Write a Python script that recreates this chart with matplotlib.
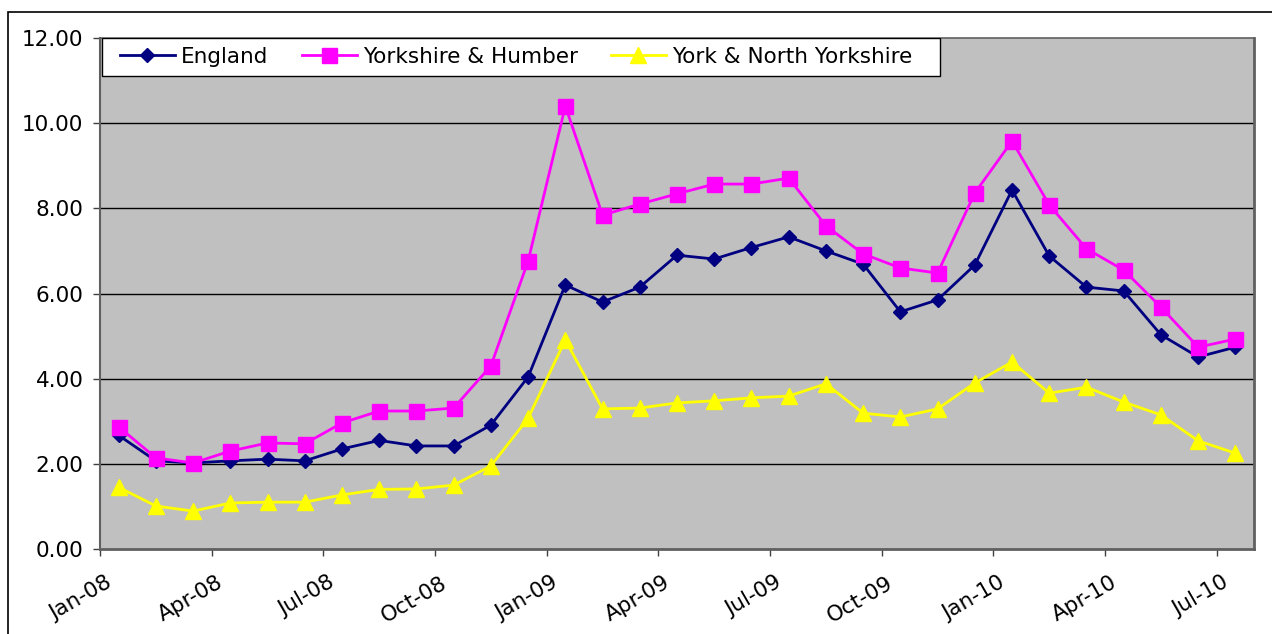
import matplotlib
matplotlib.use('Agg')
import matplotlib.pyplot as plt
from matplotlib.patches import Rectangle
from matplotlib.transforms import ScaledTranslation

plt.rcParams['font.family'] = ['DejaVu Sans']

# monthly values, Jan-08 .. Jul-10
months = ['Jan-08', 'Feb-08', 'Mar-08', 'Apr-08', 'May-08', 'Jun-08', 'Jul-08', 'Aug-08',
          'Sep-08', 'Oct-08', 'Nov-08', 'Dec-08', 'Jan-09', 'Feb-09', 'Mar-09', 'Apr-09',
          'May-09', 'Jun-09', 'Jul-09', 'Aug-09', 'Sep-09', 'Oct-09', 'Nov-09', 'Dec-09',
          'Jan-10', 'Feb-10', 'Mar-10', 'Apr-10', 'May-10', 'Jun-10', 'Jul-10']

england = [2.67, 2.07, 2.02, 2.07, 2.11, 2.07, 2.35, 2.55, 2.42, 2.42, 2.91, 4.04,
           6.20, 5.80, 6.15, 6.90, 6.81, 7.08, 7.33, 7.00, 6.69, 5.57, 5.85, 6.67,
           8.43, 6.88, 6.15, 6.06, 5.03, 4.51, 4.74]
yorks_humber = [2.87, 2.14, 2.02, 2.30, 2.49, 2.47, 2.96, 3.24, 3.24, 3.31, 4.30, 6.76,
                10.40, 7.84, 8.10, 8.34, 8.57, 8.57, 8.71, 7.59, 6.93, 6.60, 6.48, 8.36,
                9.58, 8.08, 7.05, 6.55, 5.68, 4.74, 4.93]
york_north = [1.45, 1.01, 0.89, 1.08, 1.10, 1.10, 1.27, 1.40, 1.41, 1.50, 1.95, 3.07,
              4.91, 3.29, 3.31, 3.43, 3.48, 3.55, 3.59, 3.88, 3.19, 3.10, 3.29, 3.90,
              4.39, 3.66, 3.80, 3.45, 3.15, 2.54, 2.25]

tick_labels = ['Jan-08', 'Apr-08', 'Jul-08', 'Oct-08', 'Jan-09', 'Apr-09', 'Jul-09',
               'Oct-09', 'Jan-10', 'Apr-10', 'Jul-10']

W, H = 1272, 634
fig = plt.figure(figsize=(W / 100, H / 100), dpi=100)
ax = fig.add_axes([100 / W, 1 - 549 / H, 1154 / W, 511 / H])

# outer chart frame (cropped on right and bottom)
fig.patches.append(Rectangle((8 / W, -0.1), 1.2, 1 - 12 / H + 0.1,
                             transform=fig.transFigure, fill=False,
                             edgecolor='black', linewidth=1.2))

ax.set_facecolor('#C0C0C0')
x = [i + 0.5 for i in range(len(months))]

ax.plot(x, england, color='#000080', lw=2.0, marker='D', ms=7.3, label='England')
ax.plot(x, yorks_humber, color='#FF00FF', lw=2.0, marker='s', ms=10.8,
        label='Yorkshire & Humber')
ax.plot(x, york_north, color='#FFFF00', lw=2.0, marker='^', ms=11,
        label='York & North Yorkshire')

ax.set_xlim(0, len(months))
ax.set_ylim(0, 12)
ax.set_yticks(range(0, 13, 2))
ax.set_yticklabels([f'{v:.2f}' for v in range(0, 13, 2)])
ax.set_xticks(range(0, len(months), 3))
ax.set_xticklabels(tick_labels)

for v in range(2, 12, 2):
    ax.axhline(v, color='black', lw=1.0, zorder=1)

for side in ['top', 'right', 'bottom', 'left']:
    ax.spines[side].set_color('#606060')
ax.spines['top'].set_linewidth(1.2)
ax.spines['left'].set_linewidth(1.5)
ax.spines['right'].set_linewidth(2.0)
ax.spines['bottom'].set_linewidth(2.0)

ax.tick_params(axis='both', direction='out', length=5, width=1.0, color='#404040',
               labelsize=15.5, labelcolor='black')
ax.tick_params(axis='y', pad=7)
ax.tick_params(axis='x', pad=12)

shift = ScaledTranslation(5 / 100, 0, fig.dpi_scale_trans)
for lbl in ax.get_xticklabels():
    lbl.set_rotation(30)
    lbl.set_ha('right')
    lbl.set_va('top')
    lbl.set_rotation_mode('anchor')
    lbl.set_transform(lbl.get_transform() + shift)

# legend box drawn separately so the inner padding can match
ax.add_patch(Rectangle((2 / 1154, 1 - 38 / 511), 838 / 1154, 38 / 511,
                       transform=ax.transAxes, facecolor='white', edgecolor='black',
                       linewidth=1.0, zorder=4))
leg = ax.legend(loc='center left', bbox_to_anchor=(20 / 1154, 1 - 19 / 511), ncol=3,
                fontsize=15.5, frameon=False, borderaxespad=0, borderpad=0,
                handlelength=2.55, handletextpad=0.28, columnspacing=1.55)
leg.set_zorder(5)

plt.savefig('out.png', dpi=100)
plt.close()
